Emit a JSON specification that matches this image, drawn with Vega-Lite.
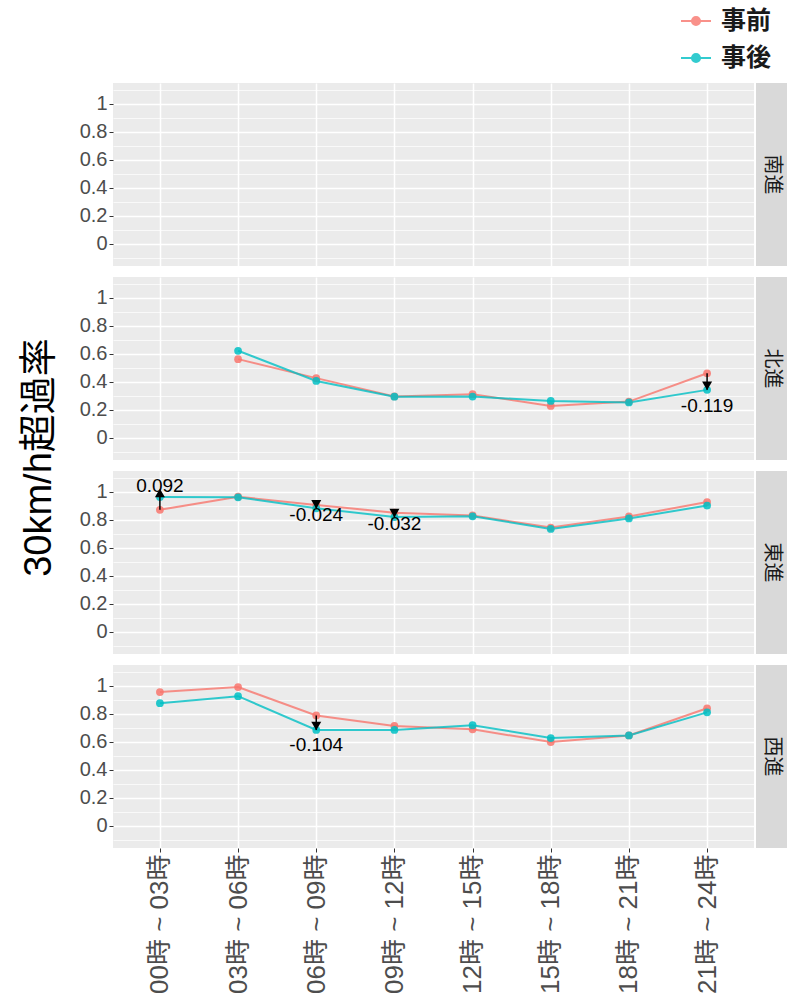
{
  "$schema": "https://vega.github.io/schema/vega-lite/v6.json",
  "padding": {"left": 0, "top": 5, "right": 0, "bottom": 0},
  "background": "white",
  "config": {"view": {"stroke": null}, "font": "Liberation Sans, Noto Sans CJK JP"},
  "datasets": {
    "d": [
      {"dir": "北進", "time": "03時 ~ 06時", "事前": 0.562, "事後": 0.622, "diff": null},
      {"dir": "北進", "time": "06時 ~ 09時", "事前": 0.426, "事後": 0.406, "diff": null},
      {"dir": "北進", "time": "09時 ~ 12時", "事前": 0.295, "事後": 0.293, "diff": null},
      {"dir": "北進", "time": "12時 ~ 15時", "事前": 0.311, "事後": 0.294, "diff": null},
      {"dir": "北進", "time": "15時 ~ 18時", "事前": 0.227, "事後": 0.263, "diff": null},
      {"dir": "北進", "time": "18時 ~ 21時", "事前": 0.258, "事後": 0.252, "diff": null},
      {"dir": "北進", "time": "21時 ~ 24時", "事前": 0.461, "事後": 0.342, "diff": -0.119},
      {"dir": "東進", "time": "00時 ~ 03時", "事前": 0.872, "事後": 0.964, "diff": 0.092},
      {"dir": "東進", "time": "03時 ~ 06時", "事前": 0.966, "事後": 0.962, "diff": null},
      {"dir": "東進", "time": "06時 ~ 09時", "事前": 0.907, "事後": 0.883, "diff": -0.024},
      {"dir": "東進", "time": "09時 ~ 12時", "事前": 0.852, "事後": 0.82, "diff": -0.032},
      {"dir": "東進", "time": "12時 ~ 15時", "事前": 0.832, "事後": 0.826, "diff": null},
      {"dir": "東進", "time": "15時 ~ 18時", "事前": 0.745, "事後": 0.735, "diff": null},
      {"dir": "東進", "time": "18時 ~ 21時", "事前": 0.825, "事後": 0.81, "diff": null},
      {"dir": "東進", "time": "21時 ~ 24時", "事前": 0.928, "事後": 0.903, "diff": null},
      {"dir": "西進", "time": "00時 ~ 03時", "事前": 0.956, "事後": 0.877, "diff": null},
      {"dir": "西進", "time": "03時 ~ 06時", "事前": 0.992, "事後": 0.927, "diff": null},
      {"dir": "西進", "time": "06時 ~ 09時", "事前": 0.789, "事後": 0.685, "diff": -0.104},
      {"dir": "西進", "time": "09時 ~ 12時", "事前": 0.714, "事後": 0.685, "diff": null},
      {"dir": "西進", "time": "12時 ~ 15時", "事前": 0.69, "事後": 0.719, "diff": null},
      {"dir": "西進", "time": "15時 ~ 18時", "事前": 0.598, "事後": 0.627, "diff": null},
      {"dir": "西進", "time": "18時 ~ 21時", "事前": 0.646, "事後": 0.646, "diff": null},
      {"dir": "西進", "time": "21時 ~ 24時", "事前": 0.84, "事後": 0.811, "diff": null}
    ]
  },
  "spacing": 0,
  "hconcat": [
    {
      "data": {"values": [{}]},
      "width": 79, "height": 765,
      "view": {"stroke": null},
      "mark": {"type": "text", "angle": 270, "fontSize": 38, "color": "black", "font": "Liberation Sans, Noto Sans CJK JP", "dx": 8},
      "encoding": {"text": {"value": "30km/h超過率"}}
    },
    {
      "spacing": 11,
      "vconcat": [
        {
          "spacing": 2,
          "hconcat": [
            {
              "data": {"name": "d"},
              "transform": [{"filter": "datum.dir === '南進'"}],
              "width": 641, "height": 183,
              "view": {"fill": "#ebebeb", "stroke": null},
              "resolve": {"axis": {"y": "independent"}},
              "layer": [
                {
                  "transform": [{"fold": ["事前", "事後"], "as": ["系列", "率"]}],
                  "mark": {"type": "line", "strokeWidth": 2, "opacity": 0.8},
                  "encoding": {
                    "x": {"field": "time", "type": "nominal", "scale": {"type": "point", "padding": 0.6, "domain": ["00時 ~ 03時", "03時 ~ 06時", "06時 ~ 09時", "09時 ~ 12時", "12時 ~ 15時", "15時 ~ 18時", "18時 ~ 21時", "21時 ~ 24時"]}, "axis": {"title": null, "labels": false, "ticks": false, "domain": false, "grid": true, "gridColor": "white", "gridWidth": 1.5}},
                    "y": {"field": "率", "type": "quantitative", "scale": {"domain": [-0.16, 1.15], "nice": false, "zero": false}, "axis": {"title": null, "values": [0, 0.2, 0.4, 0.6, 0.8, 1], "format": "~g", "grid": true, "gridColor": "white", "gridWidth": 1.5, "domain": false, "tickColor": "#333333", "tickSize": 4, "labelColor": "#4d4d4d", "labelFontSize": 20, "labelPadding": 2}},
                    "color": {"field": "系列", "type": "nominal", "scale": {"domain": ["事前", "事後"], "range": ["#F8766D", "#00BFC4"]}, "legend": {"title": null, "orient": "none", "legendX": 680, "legendY": -78, "labelFontSize": 25, "labelFontWeight": "bold", "labelColor": "#1a1a1a", "labelFont": "Noto Sans CJK JP", "labelOffset": 9, "symbolType": "M-1,0L1,0M-0.27,0A0.27,0.27,0,1,0,0.27,0A0.27,0.27,0,1,0,-0.27,0", "symbolSize": 900, "symbolStrokeWidth": 2, "rowPadding": 8, "encode": {"symbols": {"update": {"fill": {"scale": "color", "field": "value"}, "stroke": {"scale": "color", "field": "value"}, "opacity": {"value": 1}}}}}}
                  }
                },
                {
                  "transform": [{"fold": ["事前", "事後"], "as": ["系列", "率"]}],
                  "mark": {"type": "point", "filled": true, "size": 60, "opacity": 0.85},
                  "encoding": {
                    "x": {"field": "time", "type": "nominal"},
                    "y": {"field": "率", "type": "quantitative", "axis": {"orient": "right", "title": null, "values": [-0.1, 0.1, 0.3, 0.5, 0.7, 0.9, 1.1], "grid": true, "gridColor": "white", "gridWidth": 0.7, "labels": false, "ticks": false, "domain": false, "minExtent": 0, "maxExtent": 0}},
                    "color": {"field": "系列", "type": "nominal"}
                  }
                }
              ]
            },
            {
              "data": {"values": [{}]},
              "width": 31, "height": 183,
              "view": {"fill": "#d9d9d9", "stroke": null},
              "mark": {"type": "text", "angle": 90, "fontSize": 20, "color": "#1a1a1a", "font": "Noto Sans CJK JP"},
              "encoding": {"text": {"value": "南進"}}
            }
          ]
        },
        {
          "spacing": 2,
          "hconcat": [
            {
              "data": {"name": "d"},
              "transform": [{"filter": "datum.dir === '北進'"}],
              "width": 641, "height": 183,
              "view": {"fill": "#ebebeb", "stroke": null},
              "resolve": {"axis": {"y": "independent"}},
              "layer": [
                {
                  "transform": [{"fold": ["事前", "事後"], "as": ["系列", "率"]}],
                  "mark": {"type": "line", "strokeWidth": 2, "opacity": 0.8},
                  "encoding": {
                    "x": {"field": "time", "type": "nominal", "scale": {"type": "point", "padding": 0.6, "domain": ["00時 ~ 03時", "03時 ~ 06時", "06時 ~ 09時", "09時 ~ 12時", "12時 ~ 15時", "15時 ~ 18時", "18時 ~ 21時", "21時 ~ 24時"]}, "axis": {"title": null, "labels": false, "ticks": false, "domain": false, "grid": true, "gridColor": "white", "gridWidth": 1.5}},
                    "y": {"field": "率", "type": "quantitative", "scale": {"domain": [-0.16, 1.15], "nice": false, "zero": false}, "axis": {"title": null, "values": [0, 0.2, 0.4, 0.6, 0.8, 1], "format": "~g", "grid": true, "gridColor": "white", "gridWidth": 1.5, "domain": false, "tickColor": "#333333", "tickSize": 4, "labelColor": "#4d4d4d", "labelFontSize": 20, "labelPadding": 2}},
                    "color": {"field": "系列", "type": "nominal"}
                  }
                },
                {
                  "transform": [{"fold": ["事前", "事後"], "as": ["系列", "率"]}],
                  "mark": {"type": "point", "filled": true, "size": 60, "opacity": 0.85},
                  "encoding": {
                    "x": {"field": "time", "type": "nominal"},
                    "y": {"field": "率", "type": "quantitative", "axis": {"orient": "right", "title": null, "values": [-0.1, 0.1, 0.3, 0.5, 0.7, 0.9, 1.1], "grid": true, "gridColor": "white", "gridWidth": 0.7, "labels": false, "ticks": false, "domain": false, "minExtent": 0, "maxExtent": 0}},
                    "color": {"field": "系列", "type": "nominal"}
                  }
                },
                {
                  "transform": [{"filter": "isValid(datum.diff)"}],
                  "mark": {"type": "rule", "color": "black", "strokeWidth": 1.5},
                  "encoding": {"x": {"field": "time", "type": "nominal"}, "y": {"field": "事前", "type": "quantitative", "axis": null}, "y2": {"field": "事後"}}
                },
                {
                  "transform": [{"filter": "isValid(datum.diff)"}],
                  "mark": {"type": "point", "filled": true, "color": "black", "size": 100, "opacity": 1},
                  "encoding": {"x": {"field": "time", "type": "nominal"}, "y": {"field": "事後", "type": "quantitative", "axis": null}, "shape": {"condition": {"test": "datum.diff > 0", "value": "triangle-up"}, "value": "triangle-down"}, "yOffset": {"condition": {"test": "datum.diff > 0", "value": 4}, "value": -4}}
                },
                {
                  "transform": [{"filter": "datum.diff < 0"}],
                  "mark": {"type": "text", "fontSize": 19, "color": "black", "baseline": "middle", "dy": 16},
                  "encoding": {"x": {"field": "time", "type": "nominal"}, "y": {"field": "事後", "type": "quantitative", "axis": null}, "text": {"field": "diff", "type": "nominal"}}
                }
              ]
            },
            {
              "data": {"values": [{}]},
              "width": 31, "height": 183,
              "view": {"fill": "#d9d9d9", "stroke": null},
              "mark": {"type": "text", "angle": 90, "fontSize": 20, "color": "#1a1a1a", "font": "Noto Sans CJK JP"},
              "encoding": {"text": {"value": "北進"}}
            }
          ]
        },
        {
          "spacing": 2,
          "hconcat": [
            {
              "data": {"name": "d"},
              "transform": [{"filter": "datum.dir === '東進'"}],
              "width": 641, "height": 183,
              "view": {"fill": "#ebebeb", "stroke": null},
              "resolve": {"axis": {"y": "independent"}},
              "layer": [
                {
                  "transform": [{"fold": ["事前", "事後"], "as": ["系列", "率"]}],
                  "mark": {"type": "line", "strokeWidth": 2, "opacity": 0.8},
                  "encoding": {
                    "x": {"field": "time", "type": "nominal", "scale": {"type": "point", "padding": 0.6, "domain": ["00時 ~ 03時", "03時 ~ 06時", "06時 ~ 09時", "09時 ~ 12時", "12時 ~ 15時", "15時 ~ 18時", "18時 ~ 21時", "21時 ~ 24時"]}, "axis": {"title": null, "labels": false, "ticks": false, "domain": false, "grid": true, "gridColor": "white", "gridWidth": 1.5}},
                    "y": {"field": "率", "type": "quantitative", "scale": {"domain": [-0.16, 1.15], "nice": false, "zero": false}, "axis": {"title": null, "values": [0, 0.2, 0.4, 0.6, 0.8, 1], "format": "~g", "grid": true, "gridColor": "white", "gridWidth": 1.5, "domain": false, "tickColor": "#333333", "tickSize": 4, "labelColor": "#4d4d4d", "labelFontSize": 20, "labelPadding": 2}},
                    "color": {"field": "系列", "type": "nominal"}
                  }
                },
                {
                  "transform": [{"fold": ["事前", "事後"], "as": ["系列", "率"]}],
                  "mark": {"type": "point", "filled": true, "size": 60, "opacity": 0.85},
                  "encoding": {
                    "x": {"field": "time", "type": "nominal"},
                    "y": {"field": "率", "type": "quantitative", "axis": {"orient": "right", "title": null, "values": [-0.1, 0.1, 0.3, 0.5, 0.7, 0.9, 1.1], "grid": true, "gridColor": "white", "gridWidth": 0.7, "labels": false, "ticks": false, "domain": false, "minExtent": 0, "maxExtent": 0}},
                    "color": {"field": "系列", "type": "nominal"}
                  }
                },
                {
                  "transform": [{"filter": "isValid(datum.diff)"}],
                  "mark": {"type": "rule", "color": "black", "strokeWidth": 1.5},
                  "encoding": {"x": {"field": "time", "type": "nominal"}, "y": {"field": "事前", "type": "quantitative", "axis": null}, "y2": {"field": "事後"}}
                },
                {
                  "transform": [{"filter": "isValid(datum.diff)"}],
                  "mark": {"type": "point", "filled": true, "color": "black", "size": 100, "opacity": 1},
                  "encoding": {"x": {"field": "time", "type": "nominal"}, "y": {"field": "事後", "type": "quantitative", "axis": null}, "shape": {"condition": {"test": "datum.diff > 0", "value": "triangle-up"}, "value": "triangle-down"}, "yOffset": {"condition": {"test": "datum.diff > 0", "value": 4}, "value": -4}}
                },
                {
                  "transform": [{"filter": "datum.diff < 0"}],
                  "mark": {"type": "text", "fontSize": 19, "color": "black", "baseline": "middle", "dy": 7},
                  "encoding": {"x": {"field": "time", "type": "nominal"}, "y": {"field": "事後", "type": "quantitative", "axis": null}, "text": {"field": "diff", "type": "nominal"}}
                },
                {
                  "transform": [{"filter": "datum.diff > 0"}],
                  "mark": {"type": "text", "fontSize": 19, "color": "black", "baseline": "middle", "dy": -11},
                  "encoding": {"x": {"field": "time", "type": "nominal"}, "y": {"field": "事後", "type": "quantitative", "axis": null}, "text": {"field": "diff", "type": "nominal"}}
                }
              ]
            },
            {
              "data": {"values": [{}]},
              "width": 31, "height": 183,
              "view": {"fill": "#d9d9d9", "stroke": null},
              "mark": {"type": "text", "angle": 90, "fontSize": 20, "color": "#1a1a1a", "font": "Noto Sans CJK JP"},
              "encoding": {"text": {"value": "東進"}}
            }
          ]
        },
        {
          "spacing": 2,
          "hconcat": [
            {
              "data": {"name": "d"},
              "transform": [{"filter": "datum.dir === '西進'"}],
              "width": 641, "height": 183,
              "view": {"fill": "#ebebeb", "stroke": null},
              "resolve": {"axis": {"y": "independent"}},
              "layer": [
                {
                  "transform": [{"fold": ["事前", "事後"], "as": ["系列", "率"]}],
                  "mark": {"type": "line", "strokeWidth": 2, "opacity": 0.8},
                  "encoding": {
                    "x": {"field": "time", "type": "nominal", "scale": {"type": "point", "padding": 0.6, "domain": ["00時 ~ 03時", "03時 ~ 06時", "06時 ~ 09時", "09時 ~ 12時", "12時 ~ 15時", "15時 ~ 18時", "18時 ~ 21時", "21時 ~ 24時"]}, "axis": {"title": null, "labels": true, "labelAngle": 270, "labelFontSize": 26, "labelColor": "#4d4d4d", "labelPadding": 2, "labelLimit": 300, "ticks": true, "tickColor": "#333333", "tickSize": 4, "domain": false, "grid": true, "gridColor": "white", "gridWidth": 1.5}},
                    "y": {"field": "率", "type": "quantitative", "scale": {"domain": [-0.16, 1.15], "nice": false, "zero": false}, "axis": {"title": null, "values": [0, 0.2, 0.4, 0.6, 0.8, 1], "format": "~g", "grid": true, "gridColor": "white", "gridWidth": 1.5, "domain": false, "tickColor": "#333333", "tickSize": 4, "labelColor": "#4d4d4d", "labelFontSize": 20, "labelPadding": 2}},
                    "color": {"field": "系列", "type": "nominal"}
                  }
                },
                {
                  "transform": [{"fold": ["事前", "事後"], "as": ["系列", "率"]}],
                  "mark": {"type": "point", "filled": true, "size": 60, "opacity": 0.85},
                  "encoding": {
                    "x": {"field": "time", "type": "nominal"},
                    "y": {"field": "率", "type": "quantitative", "axis": {"orient": "right", "title": null, "values": [-0.1, 0.1, 0.3, 0.5, 0.7, 0.9, 1.1], "grid": true, "gridColor": "white", "gridWidth": 0.7, "labels": false, "ticks": false, "domain": false, "minExtent": 0, "maxExtent": 0}},
                    "color": {"field": "系列", "type": "nominal"}
                  }
                },
                {
                  "transform": [{"filter": "isValid(datum.diff)"}],
                  "mark": {"type": "rule", "color": "black", "strokeWidth": 1.5},
                  "encoding": {"x": {"field": "time", "type": "nominal"}, "y": {"field": "事前", "type": "quantitative", "axis": null}, "y2": {"field": "事後"}}
                },
                {
                  "transform": [{"filter": "isValid(datum.diff)"}],
                  "mark": {"type": "point", "filled": true, "color": "black", "size": 100, "opacity": 1},
                  "encoding": {"x": {"field": "time", "type": "nominal"}, "y": {"field": "事後", "type": "quantitative", "axis": null}, "shape": {"condition": {"test": "datum.diff > 0", "value": "triangle-up"}, "value": "triangle-down"}, "yOffset": {"condition": {"test": "datum.diff > 0", "value": 4}, "value": -4}}
                },
                {
                  "transform": [{"filter": "datum.diff < 0"}],
                  "mark": {"type": "text", "fontSize": 19, "color": "black", "baseline": "middle", "dy": 15},
                  "encoding": {"x": {"field": "time", "type": "nominal"}, "y": {"field": "事後", "type": "quantitative", "axis": null}, "text": {"field": "diff", "type": "nominal"}}
                }
              ]
            },
            {
              "data": {"values": [{}]},
              "width": 31, "height": 183,
              "view": {"fill": "#d9d9d9", "stroke": null},
              "mark": {"type": "text", "angle": 90, "fontSize": 20, "color": "#1a1a1a", "font": "Noto Sans CJK JP"},
              "encoding": {"text": {"value": "西進"}}
            }
          ]
        }
      ]
    }
  ]
}
